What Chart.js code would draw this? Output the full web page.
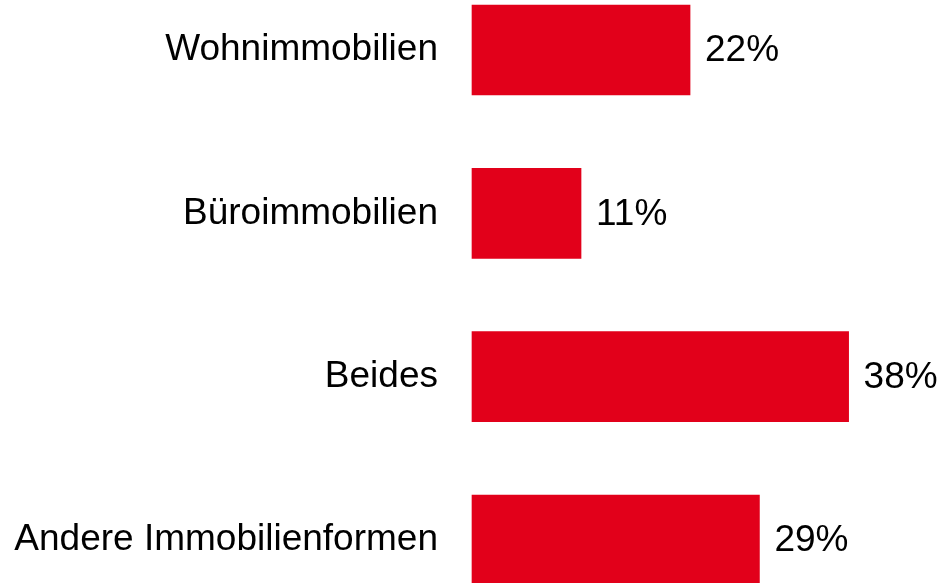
<!DOCTYPE html>
<html>
<head>
<meta charset="utf-8">
<script src="https://cdn.jsdelivr.net/npm/chart.js@4.4.1/dist/chart.umd.min.js"></script>
<style>
  html, body { margin: 0; padding: 0; background: #fff; }
  #wrap { width: 941px; height: 583px; position: relative; }
</style>
</head>
<body>
<div id="wrap"><canvas id="chart"></canvas></div>
<script>
// Daten
const categories = ['Wohnimmobilien', 'Büroimmobilien', 'Beides', 'Andere Immobilienformen'];
const shares = [22, 11, 38, 29];
const barColor = '#E2001A';
const fontFamily = '"Liberation Sans", Arial, sans-serif';

// Prozentwerte rechts neben den Balken
const valueLabels = {
    id: 'valueLabels',
    afterDatasetsDraw(chart) {
        const ctx = chart.ctx;
        const meta = chart.getDatasetMeta(0);
        ctx.save();
        ctx.font = '37px ' + fontFamily;
        ctx.fillStyle = '#000';
        ctx.textAlign = 'left';
        ctx.textBaseline = 'middle';
        meta.data.forEach((bar, i) => {
            ctx.fillText(shares[i] + '%', bar.x + 15, bar.y + 1);
        });
        ctx.restore();
    }
};

new Chart(document.getElementById('chart'), {
    type: 'bar',
    data: {
        labels: categories,
        datasets: [{
            data: shares,
            backgroundColor: barColor,
            borderWidth: 0,
            barThickness: 90,
            clip: false
        }]
    },
    options: {
        indexAxis: 'y',
        responsive: true,
        maintainAspectRatio: false,
        animation: false,
        layout: { padding: { top: 50, bottom: 43, left: 0, right: 23 } },
        plugins: {
            legend: { display: false },
            tooltip: { enabled: false }
        },
        scales: {
            x: { display: false, min: 0, max: 45 },
            y: {
                offset: false,
                grid: { display: false, drawTicks: false },
                border: { display: false },
                ticks: {
                    color: '#000',
                    padding: 34,
                    font: { size: 37, family: fontFamily }
                },
                afterFit(scale) {
                    // feste Breite, keine Zusatzabstaende oben/unten
                    scale.width = 472;
                    scale.paddingTop = 0;
                    scale.paddingBottom = 0;
                }
            }
        }
    },
    plugins: [valueLabels]
});
</script>
</body>
</html>
